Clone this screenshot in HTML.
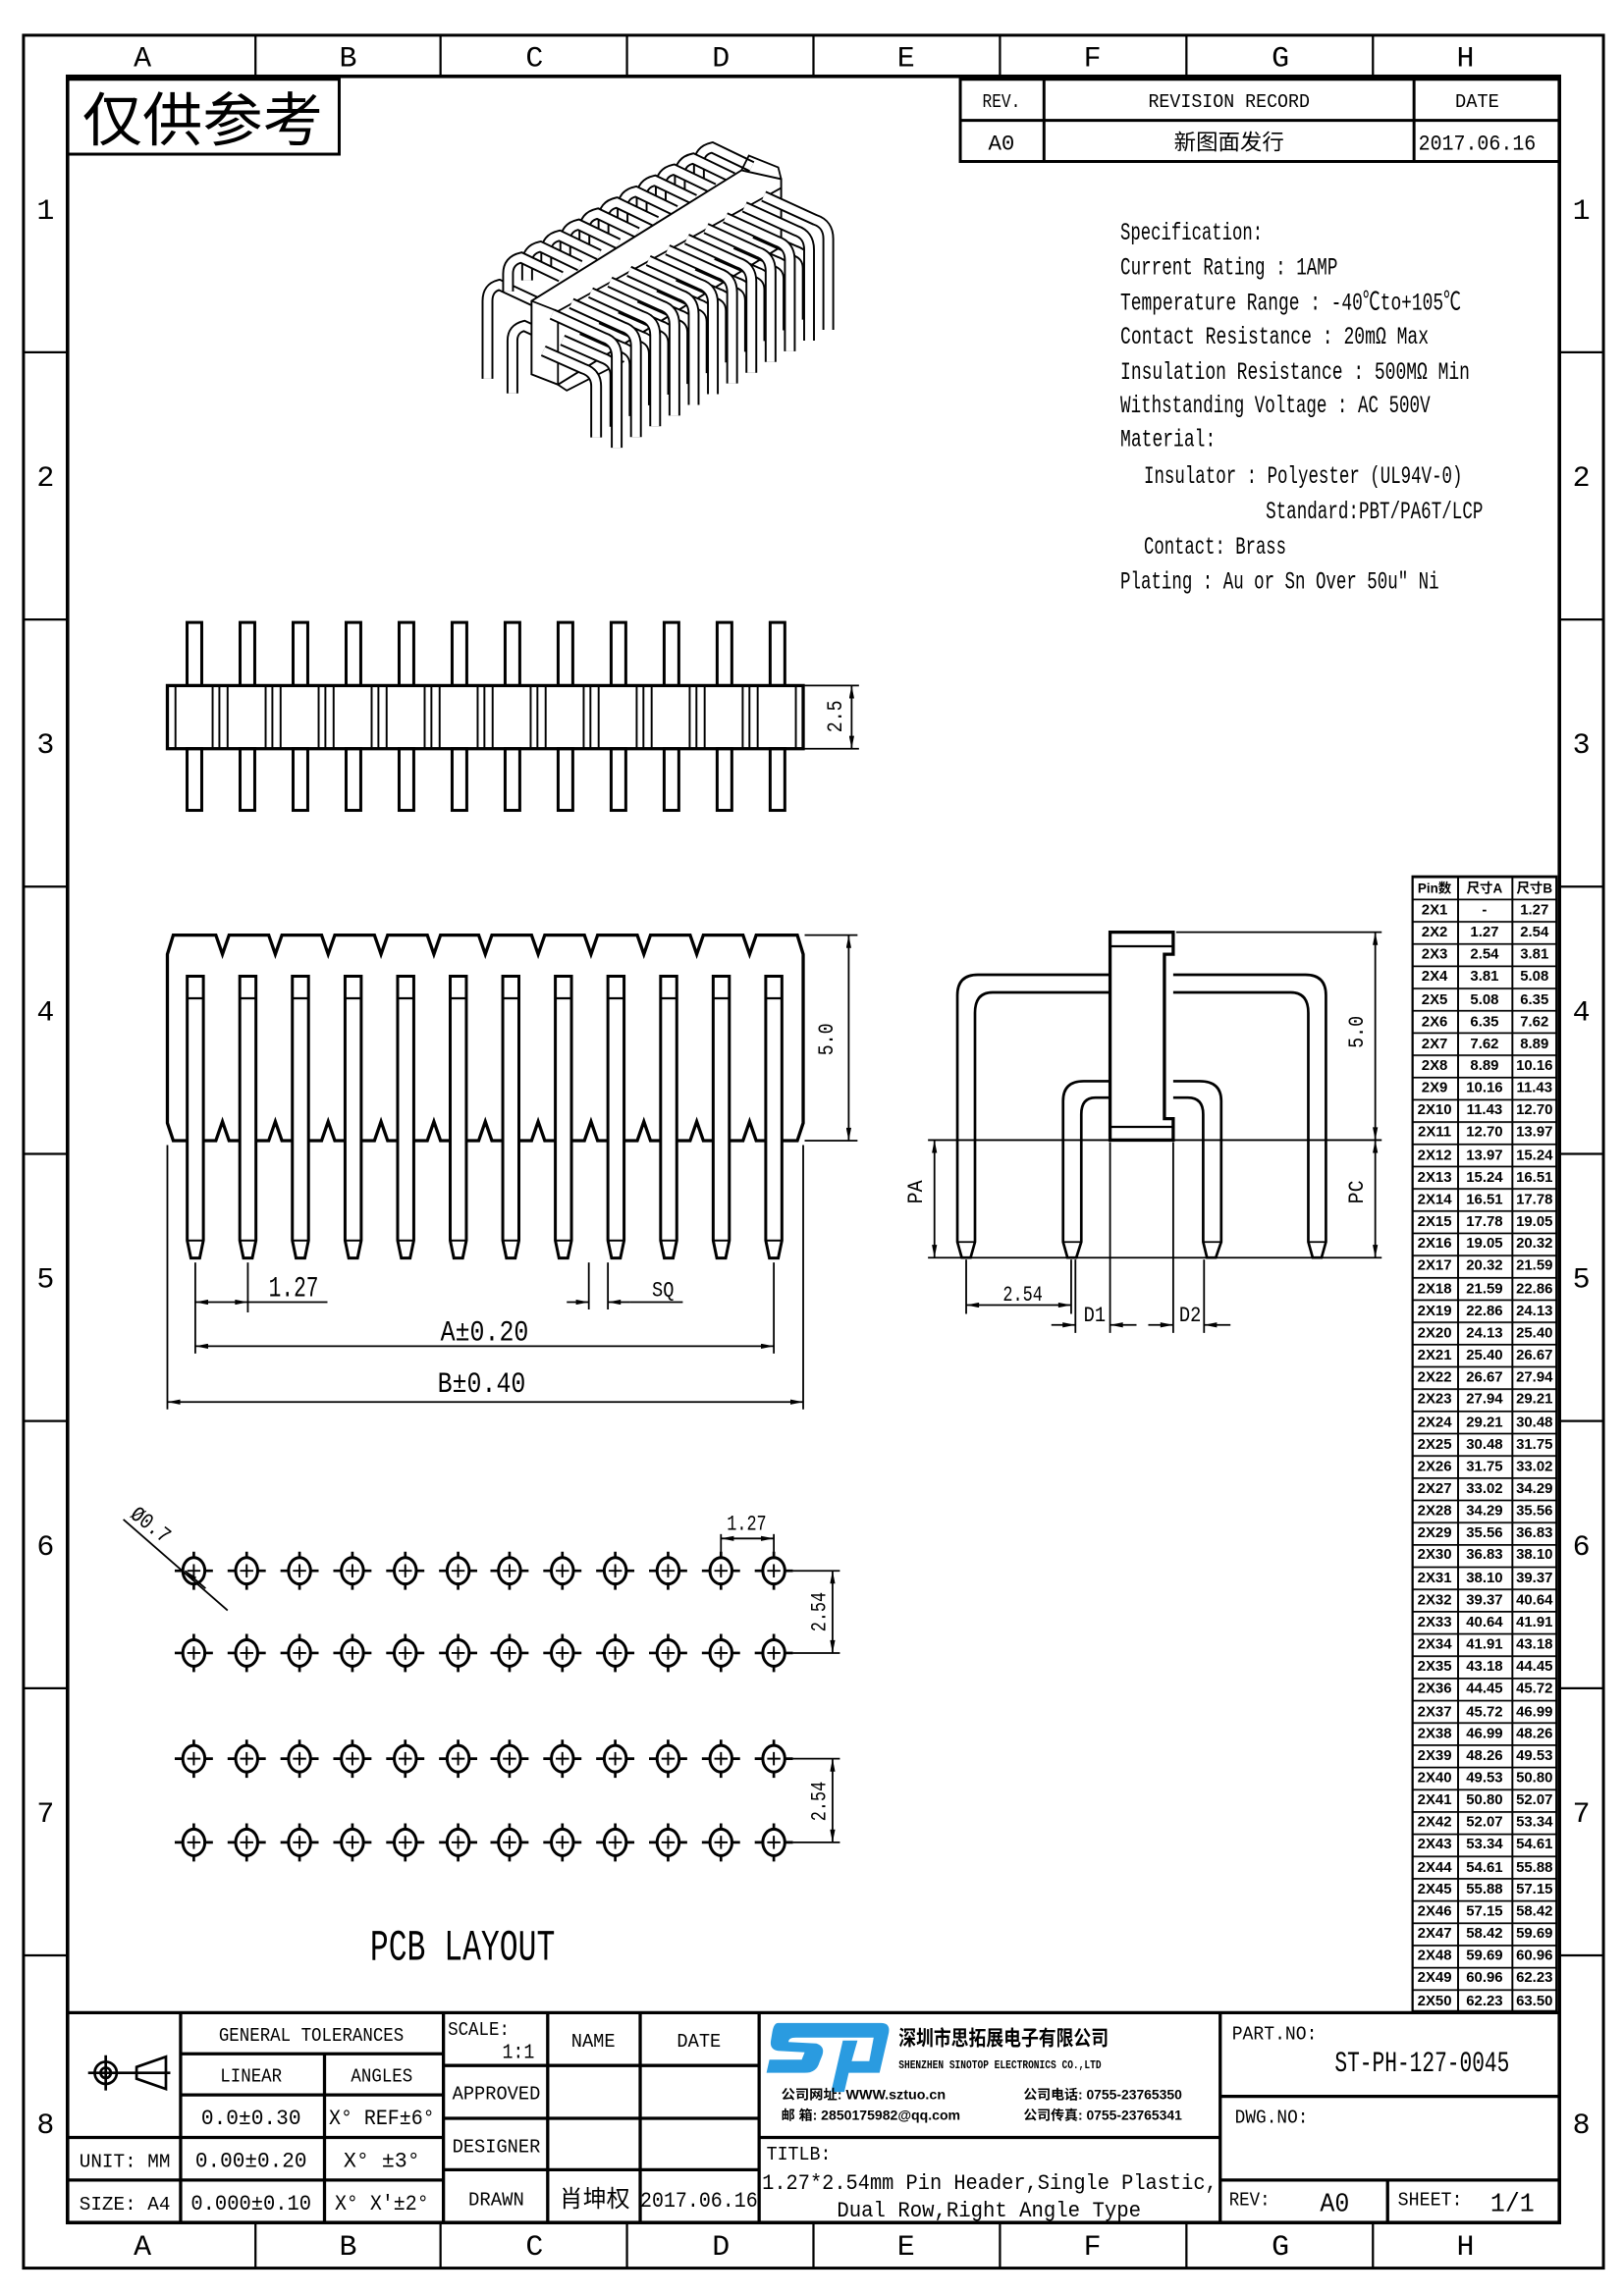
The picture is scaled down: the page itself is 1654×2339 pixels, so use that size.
<!DOCTYPE html>
<html><head><meta charset="utf-8"><style>
html,body{margin:0;padding:0;background:#fff}
svg{display:block}
text{font-family:"Liberation Mono","Noto Sans CJK SC",monospace;fill:#000}
.s{font-family:"Liberation Sans","Noto Sans CJK SC",sans-serif}
.t text{font-family:"Liberation Sans","Noto Sans CJK SC",sans-serif}
</style></head><body>
<svg width="1654" height="2339" viewBox="0 0 1106 1564" preserveAspectRatio="none" xmlns="http://www.w3.org/2000/svg">
<defs>
<marker id="a" viewBox="0 0 10 4" refX="10" refY="2" markerWidth="9" markerHeight="3.5" orient="auto-start-reverse" markerUnits="userSpaceOnUse"><path d="M0,0 L10,2 L0,4z"/></marker>
<pattern id="rows" x="962" y="597" width="100" height="15.16" patternUnits="userSpaceOnUse"><line x1="0" y1="0.5" x2="100" y2="0.5" stroke="#000" stroke-width="1.3"/></pattern>
<g id="fp"><path d="M-5.5,665 H5.5 V845 L3,857 H-3 L-5.5,845 Z" fill="#fff" stroke="#000" stroke-width="2"/><line x1="-5.5" y1="680" x2="5.5" y2="680" stroke="#000" stroke-width="1.5"/><line x1="-5.5" y1="845" x2="5.5" y2="845" stroke="#000" stroke-width="1.3"/></g>
<g id="tp"><rect x="-5" y="424" width="10" height="43" fill="#fff" stroke="#000" stroke-width="2"/><rect x="-5" y="510" width="10" height="42" fill="#fff" stroke="#000" stroke-width="2"/></g>
<g id="gr" stroke="#000" stroke-width="1.3"><line x1="12.4" y1="467" x2="12.4" y2="510"/><line x1="17" y1="467" x2="17" y2="510"/><line x1="22.6" y1="467" x2="22.6" y2="510"/></g>
<g id="h" fill="none" stroke="#000"><ellipse cx="0" cy="0" rx="7.5" ry="9" stroke-width="2"/><path d="M-13,0 H-7.5 M7.5,0 H13 M0,-13 V-9 M0,9 V13" stroke-width="1.8"/><path d="M-4.5,0 H4.5 M0,-4.5 V4.5" stroke-width="1.3"/></g>
<g id="hr"><use href="#h" x="132"/><use href="#h" x="168"/><use href="#h" x="204"/><use href="#h" x="240"/><use href="#h" x="276"/><use href="#h" x="312"/><use href="#h" x="347"/><use href="#h" x="383"/><use href="#h" x="419"/><use href="#h" x="455"/><use href="#h" x="491"/><use href="#h" x="527"/></g>
<g id="p3" fill="none" stroke-linejoin="round"><path d="M0,0 V-62 Q0,-72 -9,-75 L-44,-91" stroke="#000" stroke-width="8"/><path d="M0,0 V-62 Q0,-72 -9,-75 L-44,-91" stroke="#fff" stroke-width="5.4"/><path d="M-14,-7 V-42 Q-14,-51 -23,-54 L-50,-66" stroke="#000" stroke-width="8"/><path d="M-14,-7 V-42 Q-14,-51 -23,-54 L-50,-66" stroke="#fff" stroke-width="5.4"/></g>
<g id="ba" fill="none"><path d="M0,6 V-6 Q0,-15 9,-17 L36,-4" stroke="#000" stroke-width="8"/><path d="M0,6 V-6 Q0,-15 9,-17 L36,-4" stroke="#fff" stroke-width="5.4"/></g>
</defs>

<!-- frame -->
<g fill="none" stroke="#000" stroke-width="2">
<rect x="16" y="24" width="1076" height="1521"/>
<rect x="46" y="52" width="1016" height="1462" stroke-width="2.4"/>
</g>
<g stroke="#000" stroke-width="1.5">
<line x1="174" y1="24" x2="174" y2="52"/><line x1="300" y1="24" x2="300" y2="52"/><line x1="427" y1="24" x2="427" y2="52"/><line x1="554" y1="24" x2="554" y2="52"/><line x1="681" y1="24" x2="681" y2="52"/><line x1="808" y1="24" x2="808" y2="52"/><line x1="935" y1="24" x2="935" y2="52"/>
<line x1="174" y1="1514" x2="174" y2="1545"/><line x1="300" y1="1514" x2="300" y2="1545"/><line x1="427" y1="1514" x2="427" y2="1545"/><line x1="554" y1="1514" x2="554" y2="1545"/><line x1="681" y1="1514" x2="681" y2="1545"/><line x1="808" y1="1514" x2="808" y2="1545"/><line x1="935" y1="1514" x2="935" y2="1545"/>
<line x1="16" y1="240" x2="46" y2="240"/><line x1="16" y1="422" x2="46" y2="422"/><line x1="16" y1="604" x2="46" y2="604"/><line x1="16" y1="786" x2="46" y2="786"/><line x1="16" y1="968" x2="46" y2="968"/><line x1="16" y1="1150" x2="46" y2="1150"/><line x1="16" y1="1332" x2="46" y2="1332"/>
<line x1="1062" y1="240" x2="1092" y2="240"/><line x1="1062" y1="422" x2="1092" y2="422"/><line x1="1062" y1="604" x2="1092" y2="604"/><line x1="1062" y1="786" x2="1092" y2="786"/><line x1="1062" y1="968" x2="1092" y2="968"/><line x1="1062" y1="1150" x2="1092" y2="1150"/><line x1="1062" y1="1332" x2="1092" y2="1332"/>
</g>
<g font-size="20" text-anchor="middle">
<text x="97" y="45">A</text><text x="237" y="45">B</text><text x="364" y="45">C</text><text x="491" y="45">D</text><text x="617" y="45">E</text><text x="744" y="45">F</text><text x="872" y="45">G</text><text x="998" y="45">H</text>
<text x="97" y="1536">A</text><text x="237" y="1536">B</text><text x="364" y="1536">C</text><text x="491" y="1536">D</text><text x="617" y="1536">E</text><text x="744" y="1536">F</text><text x="872" y="1536">G</text><text x="998" y="1536">H</text>
<text x="31" y="149">1</text><text x="31" y="331">2</text><text x="31" y="513">3</text><text x="31" y="695">4</text><text x="31" y="877">5</text><text x="31" y="1059">6</text><text x="31" y="1241">7</text><text x="31" y="1453">8</text>
<text x="1077" y="149">1</text><text x="1077" y="331">2</text><text x="1077" y="513">3</text><text x="1077" y="695">4</text><text x="1077" y="877">5</text><text x="1077" y="1059">6</text><text x="1077" y="1241">7</text><text x="1077" y="1453">8</text>
</g>

<!-- 仅供参考 -->
<rect x="46" y="54" width="185" height="51" fill="none" stroke="#000" stroke-width="2"/>
<text class="s" x="56" y="96" font-size="40" textLength="164" lengthAdjust="spacingAndGlyphs">仅供参考</text>

<!-- revision -->
<g fill="none" stroke="#000" stroke-width="2"><rect x="654" y="54" width="408" height="56"/><line x1="654" y1="82" x2="1062" y2="82"/><line x1="711" y1="54" x2="711" y2="110"/><line x1="963" y1="54" x2="963" y2="110"/></g>
<g font-size="13" text-anchor="middle">
<text x="682" y="73" textLength="26" lengthAdjust="spacingAndGlyphs">REV.</text>
<text x="837" y="73" textLength="110" lengthAdjust="spacingAndGlyphs">REVISION RECORD</text>
<text x="1006" y="73" textLength="30" lengthAdjust="spacingAndGlyphs">DATE</text>
<text x="682" y="102" font-size="15">A0</text>
<text class="s" x="837" y="102" font-size="15">新图面发行</text>
<text x="1006" y="102" font-size="15" textLength="80" lengthAdjust="spacingAndGlyphs">2017.06.16</text>
</g>

<!-- spec -->
<g font-size="17">
<text x="763" y="163" textLength="97" lengthAdjust="spacingAndGlyphs">Specification:</text>
<text x="763" y="187" textLength="148" lengthAdjust="spacingAndGlyphs">Current Rating : 1AMP</text>
<text x="763" y="211" textLength="232" lengthAdjust="spacingAndGlyphs">Temperature Range : -40℃to+105℃</text>
<text x="763" y="234" textLength="210" lengthAdjust="spacingAndGlyphs">Contact Resistance : 20mΩ Max</text>
<text x="763" y="258" textLength="238" lengthAdjust="spacingAndGlyphs">Insulation Resistance : 500MΩ Min</text>
<text x="763" y="281" textLength="211" lengthAdjust="spacingAndGlyphs">Withstanding Voltage : AC 500V</text>
<text x="763" y="304" textLength="65" lengthAdjust="spacingAndGlyphs">Material:</text>
<text x="779" y="329" textLength="217" lengthAdjust="spacingAndGlyphs">Insulator : Polyester (UL94V-0)</text>
<text x="862" y="353" textLength="148" lengthAdjust="spacingAndGlyphs">Standard:PBT/PA6T/LCP</text>
<text x="779" y="377" textLength="97" lengthAdjust="spacingAndGlyphs">Contact: Brass</text>
<text x="763" y="401" textLength="217" lengthAdjust="spacingAndGlyphs">Plating : Au or Sn Over 50u″ Ni</text>
</g>

<!-- 3D view -->
<g>
<g fill="none"><path d="M332,258 V205 Q332,196 340,194 L370,208" stroke="#000" stroke-width="8"/><path d="M332,258 V205 Q332,196 340,194 L370,208" stroke="#fff" stroke-width="5.4"/>
<path d="M349,268 V232 Q349,224 357,222 L372,229" stroke="#000" stroke-width="8"/><path d="M349,268 V232 Q349,224 357,222 L372,229" stroke="#fff" stroke-width="5.4"/></g>
<use href="#ba" x="476" y="117.5"/><use href="#ba" x="463" y="125"/><use href="#ba" x="450" y="132.5"/><use href="#ba" x="437" y="140"/><use href="#ba" x="424" y="147.5"/><use href="#ba" x="411" y="155"/><use href="#ba" x="398" y="162.5"/><use href="#ba" x="385" y="170"/><use href="#ba" x="372" y="177.5"/><use href="#ba" x="359" y="185"/><use href="#ba" x="346" y="192.5"/>
<polygon points="362,205 505,116 532,122 532,168 380,262 362,255" fill="#fff" stroke="#000" stroke-width="1.3"/>
<path d="M362,205 L380,212 L532,128 M380,212 V262 M505,116 L510,106 L530,114 L532,122" fill="none" stroke="#000" stroke-width="1.2"/>
<path d="M380,262 L386,266 L425,246" fill="none" stroke="#000" stroke-width="1.2"/>
<use href="#p3" x="564.1" y="224.7"/><use href="#p3" x="551" y="232"/><use href="#p3" x="537.9" y="239.3"/><use href="#p3" x="524.8" y="246.6"/><use href="#p3" x="511.7" y="253.9"/><use href="#p3" x="498.6" y="261.2"/><use href="#p3" x="485.5" y="268.5"/><use href="#p3" x="472.4" y="275.8"/><use href="#p3" x="459.3" y="283.1"/><use href="#p3" x="446.2" y="290.4"/><use href="#p3" x="433.1" y="297.7"/><use href="#p3" x="420" y="305"/>
</g>

<!-- top view -->
<g>
<use href="#tp" x="132.4"/><use href="#tp" x="168.5"/><use href="#tp" x="204.6"/><use href="#tp" x="240.7"/><use href="#tp" x="276.8"/><use href="#tp" x="312.9"/><use href="#tp" x="349"/><use href="#tp" x="385.1"/><use href="#tp" x="421.2"/><use href="#tp" x="457.3"/><use href="#tp" x="493.4"/><use href="#tp" x="529.5"/>
<rect x="114" y="467" width="433" height="43" fill="none" stroke="#000" stroke-width="2.2"/>
<line x1="119.5" y1="467" x2="119.5" y2="510" stroke="#000" stroke-width="1.3"/><line x1="542" y1="467" x2="542" y2="510" stroke="#000" stroke-width="1.3"/>
<use href="#gr" x="132.4"/><use href="#gr" x="168.5"/><use href="#gr" x="204.6"/><use href="#gr" x="240.7"/><use href="#gr" x="276.8"/><use href="#gr" x="312.9"/><use href="#gr" x="349"/><use href="#gr" x="385.1"/><use href="#gr" x="421.2"/><use href="#gr" x="457.3"/><use href="#gr" x="493.4"/>
<g stroke="#000" stroke-width="1.2"><line x1="548" y1="467" x2="585" y2="467"/><line x1="548" y1="510" x2="585" y2="510"/><line x1="580" y1="467" x2="580" y2="510" marker-start="url(#a)" marker-end="url(#a)"/></g>
<text x="573" y="488" font-size="15" text-anchor="middle" transform="rotate(-90 573 488)" textLength="22" lengthAdjust="spacingAndGlyphs">2.5</text>
</g>

<!-- front view -->
<g>
<path d="M114,650 L118,637 H147 L151.5,650 L156,637 H183 L187.5,650 L192,637 H219 L223.5,650 L228,637 H255 L259.5,650 L264,637 H291 L295.5,650 L300,637 H326 L330.5,650 L335,637 H362 L366.5,650 L371,637 H398 L402.5,650 L407,637 H434 L438.5,650 L443,637 H470 L474.5,650 L479,637 H506 L510.5,650 L515,637 H543 L547,650 V765 L543,777 H515 L510.5,764 L506,777 H479 L474.5,764 L470,777 H443 L438.5,764 L434,777 H407 L402.5,764 L398,777 H371 L366.5,764 L362,777 H335 L330.5,764 L326,777 H300 L295.5,764 L291,777 H264 L259.5,764 L255,777 H228 L223.5,764 L219,777 H192 L187.5,764 L183,777 H156 L151.5,764 L147,777 H118 L114,765 Z" fill="none" stroke="#000" stroke-width="2.2"/>
<use href="#fp" x="133"/><use href="#fp" x="168.8"/><use href="#fp" x="204.6"/><use href="#fp" x="240.5"/><use href="#fp" x="276.3"/><use href="#fp" x="312.1"/><use href="#fp" x="347.9"/><use href="#fp" x="383.7"/><use href="#fp" x="419.5"/><use href="#fp" x="455.4"/><use href="#fp" x="491.2"/><use href="#fp" x="527"/>
<g stroke="#000" stroke-width="1.2" fill="none">
<line x1="548" y1="637" x2="584" y2="637"/><line x1="548" y1="777" x2="584" y2="777"/><line x1="578" y1="637" x2="578" y2="777" marker-start="url(#a)" marker-end="url(#a)"/>
<line x1="133" y1="860" x2="133" y2="922"/><line x1="168.8" y1="860" x2="168.8" y2="894"/>
<line x1="133" y1="887" x2="168.8" y2="887" marker-start="url(#a)" marker-end="url(#a)"/><line x1="168.8" y1="887" x2="223" y2="887"/>
<line x1="401" y1="860" x2="401" y2="892"/><line x1="414" y1="860" x2="414" y2="892"/>
<line x1="386" y1="887" x2="401" y2="887" marker-end="url(#a)"/><line x1="429" y1="887" x2="414" y2="887" marker-end="url(#a)"/><line x1="429" y1="887" x2="465" y2="887"/>
<line x1="527" y1="860" x2="527" y2="922"/><line x1="133" y1="917" x2="527" y2="917" marker-start="url(#a)" marker-end="url(#a)"/>
<line x1="114" y1="780" x2="114" y2="960"/><line x1="547" y1="780" x2="547" y2="960"/><line x1="114" y1="955" x2="547" y2="955" marker-start="url(#a)" marker-end="url(#a)"/>
</g>
<text x="567" y="708" font-size="15" text-anchor="middle" transform="rotate(-90 567 708)" textLength="22" lengthAdjust="spacingAndGlyphs">5.0</text>
<text x="183" y="883" font-size="20" textLength="34" lengthAdjust="spacingAndGlyphs">1.27</text>
<text x="444" y="883" font-size="15" textLength="15" lengthAdjust="spacingAndGlyphs">SQ</text>
<text x="300" y="913" font-size="20" textLength="60" lengthAdjust="spacingAndGlyphs">A±0.20</text>
<text x="298" y="948" font-size="20" textLength="60" lengthAdjust="spacingAndGlyphs">B±0.40</text>
</g>

<!-- side view -->
<g fill="none" stroke="#000">
<path d="M756,664 H666 Q652,664 652,678 V846 L655,856.7 H661 L664,846 V690 Q664,676 676,676 H756" stroke-width="1.8" fill="#fff"/>
<path d="M756,736.5 H738 Q724,736.5 724,750 V846 L727,856.7 H733 L736.4,846 V759 Q736.4,747.7 746,747.7 H756" stroke-width="1.8" fill="#fff"/>
<path d="M799,664 H889 Q903,664 903,678 V846 L900,856.7 H894 L891,846 V690 Q891,676 879,676 H799" stroke-width="1.8" fill="#fff"/>
<path d="M799,736.5 H817 Q831.7,736.5 831.7,750 V846 L828,856.7 H822 L819.4,846 V759 Q819.4,747.7 809,747.7 H799" stroke-width="1.8" fill="#fff"/>
<line x1="664" y1="846" x2="652" y2="846" stroke-width="1.2"/><line x1="736.4" y1="846" x2="724" y2="846" stroke-width="1.2"/><line x1="831.7" y1="846" x2="819.4" y2="846" stroke-width="1.2"/><line x1="903" y1="846" x2="891" y2="846" stroke-width="1.2"/>
<path d="M756,635 H799 V650 H793 V762 H799 V776.6 H756 Z" stroke-width="2.2" fill="#fff"/>
<line x1="756" y1="644.6" x2="799" y2="644.6" stroke-width="1.5"/><line x1="756" y1="767.6" x2="799" y2="767.6" stroke-width="1.5"/>
<g stroke-width="1.2">
<line x1="632" y1="776.6" x2="941" y2="776.6"/><line x1="632" y1="856.7" x2="941" y2="856.7"/>
<line x1="801" y1="635" x2="941" y2="635"/>
<line x1="936.6" y1="635" x2="936.6" y2="776.6" marker-start="url(#a)" marker-end="url(#a)"/>
<line x1="936.6" y1="776.6" x2="936.6" y2="856.7" marker-start="url(#a)" marker-end="url(#a)"/>
<line x1="636.4" y1="776.6" x2="636.4" y2="856.7" marker-start="url(#a)" marker-end="url(#a)"/>
<line x1="658" y1="858" x2="658" y2="895"/><line x1="729.5" y1="858" x2="729.5" y2="895"/>
<line x1="658" y1="889" x2="729.5" y2="889" marker-start="url(#a)" marker-end="url(#a)"/>
<line x1="732.4" y1="858" x2="732.4" y2="908"/><line x1="756" y1="778" x2="756" y2="908"/>
<line x1="716" y1="902.5" x2="732.4" y2="902.5" marker-end="url(#a)"/><line x1="774" y1="902.5" x2="756" y2="902.5" marker-end="url(#a)"/>
<line x1="799" y1="778" x2="799" y2="908"/><line x1="820" y1="858" x2="820" y2="908"/>
<line x1="782" y1="902.5" x2="799" y2="902.5" marker-end="url(#a)"/><line x1="838" y1="902.5" x2="820" y2="902.5" marker-end="url(#a)"/>
</g>
</g>
<g font-size="15" stroke="none">
<text x="933" y="708" transform="rotate(-90 928 708)" text-anchor="middle" textLength="22" lengthAdjust="spacingAndGlyphs">5.0</text>
<text x="633" y="817" transform="rotate(-90 628 817)" text-anchor="middle" textLength="16" lengthAdjust="spacingAndGlyphs">PA</text>
<text x="933" y="817" transform="rotate(-90 928 817)" text-anchor="middle" textLength="16" lengthAdjust="spacingAndGlyphs">PC</text>
<text x="683" y="886" textLength="27" lengthAdjust="spacingAndGlyphs">2.54</text>
<text x="738" y="900" textLength="15" lengthAdjust="spacingAndGlyphs">D1</text>
<text x="803" y="900" textLength="15" lengthAdjust="spacingAndGlyphs">D2</text>
</g>

<!-- PCB layout -->
<g>
<use href="#hr" y="1070"/><use href="#hr" y="1126"/><use href="#hr" y="1198"/><use href="#hr" y="1255"/>
<g stroke="#000" stroke-width="1.2" fill="none">
<line x1="84" y1="1035" x2="155" y2="1097"/><line x1="140" y1="1082" x2="126" y2="1070" marker-end="url(#a)"/>
<line x1="491" y1="1045" x2="491" y2="1062"/><line x1="527" y1="1045" x2="527" y2="1062"/>
<line x1="491" y1="1048" x2="527" y2="1048" marker-start="url(#a)" marker-end="url(#a)"/>
<line x1="540" y1="1070" x2="572" y2="1070"/><line x1="540" y1="1126" x2="572" y2="1126"/><line x1="567" y1="1070" x2="567" y2="1126" marker-start="url(#a)" marker-end="url(#a)"/>
<line x1="540" y1="1198" x2="572" y2="1198"/><line x1="540" y1="1255" x2="572" y2="1255"/><line x1="567" y1="1198" x2="567" y2="1255" marker-start="url(#a)" marker-end="url(#a)"/>
</g>
<text x="88" y="1033" font-size="15" transform="rotate(38 88 1033)" textLength="30" lengthAdjust="spacingAndGlyphs">Ø0.7</text>
<text x="495" y="1042" font-size="15" textLength="27" lengthAdjust="spacingAndGlyphs">1.27</text>
<text x="562" y="1098" font-size="15" text-anchor="middle" transform="rotate(-90 562 1098)" textLength="27" lengthAdjust="spacingAndGlyphs">2.54</text>
<text x="562" y="1227" font-size="15" text-anchor="middle" transform="rotate(-90 562 1227)" textLength="27" lengthAdjust="spacingAndGlyphs">2.54</text>
<text x="252" y="1335" font-size="30" textLength="126" lengthAdjust="spacingAndGlyphs">PCB LAYOUT</text>
</g>

<!-- size table -->
<g class="t">
<rect x="962" y="597" width="98" height="773" fill="url(#rows)" stroke="#000" stroke-width="1.5"/>
<line x1="993" y1="597" x2="993" y2="1370" stroke="#000" stroke-width="1.3"/><line x1="1030" y1="597" x2="1030" y2="1370" stroke="#000" stroke-width="1.3"/>
<g font-size="10" font-weight="bold" text-anchor="middle">
<text x="977" y="608" font-size="9">Pin数</text><text x="1011" y="608" font-size="9">尺寸A</text><text x="1045" y="608" font-size="9">尺寸B</text>
<text x="977" y="623">2X1</text><text x="1011" y="623">-</text><text x="1045" y="623">1.27</text>
<text x="977" y="638">2X2</text><text x="1011" y="638">1.27</text><text x="1045" y="638">2.54</text>
<text x="977" y="653">2X3</text><text x="1011" y="653">2.54</text><text x="1045" y="653">3.81</text>
<text x="977" y="668">2X4</text><text x="1011" y="668">3.81</text><text x="1045" y="668">5.08</text>
<text x="977" y="684">2X5</text><text x="1011" y="684">5.08</text><text x="1045" y="684">6.35</text>
<text x="977" y="699">2X6</text><text x="1011" y="699">6.35</text><text x="1045" y="699">7.62</text>
<text x="977" y="714">2X7</text><text x="1011" y="714">7.62</text><text x="1045" y="714">8.89</text>
<text x="977" y="729">2X8</text><text x="1011" y="729">8.89</text><text x="1045" y="729">10.16</text>
<text x="977" y="744">2X9</text><text x="1011" y="744">10.16</text><text x="1045" y="744">11.43</text>
<text x="977" y="759">2X10</text><text x="1011" y="759">11.43</text><text x="1045" y="759">12.70</text>
<text x="977" y="774">2X11</text><text x="1011" y="774">12.70</text><text x="1045" y="774">13.97</text>
<text x="977" y="790">2X12</text><text x="1011" y="790">13.97</text><text x="1045" y="790">15.24</text>
<text x="977" y="805">2X13</text><text x="1011" y="805">15.24</text><text x="1045" y="805">16.51</text>
<text x="977" y="820">2X14</text><text x="1011" y="820">16.51</text><text x="1045" y="820">17.78</text>
<text x="977" y="835">2X15</text><text x="1011" y="835">17.78</text><text x="1045" y="835">19.05</text>
<text x="977" y="850">2X16</text><text x="1011" y="850">19.05</text><text x="1045" y="850">20.32</text>
<text x="977" y="865">2X17</text><text x="1011" y="865">20.32</text><text x="1045" y="865">21.59</text>
<text x="977" y="881">2X18</text><text x="1011" y="881">21.59</text><text x="1045" y="881">22.86</text>
<text x="977" y="896">2X19</text><text x="1011" y="896">22.86</text><text x="1045" y="896">24.13</text>
<text x="977" y="911">2X20</text><text x="1011" y="911">24.13</text><text x="1045" y="911">25.40</text>
<text x="977" y="926">2X21</text><text x="1011" y="926">25.40</text><text x="1045" y="926">26.67</text>
<text x="977" y="941">2X22</text><text x="1011" y="941">26.67</text><text x="1045" y="941">27.94</text>
<text x="977" y="956">2X23</text><text x="1011" y="956">27.94</text><text x="1045" y="956">29.21</text>
<text x="977" y="972">2X24</text><text x="1011" y="972">29.21</text><text x="1045" y="972">30.48</text>
<text x="977" y="987">2X25</text><text x="1011" y="987">30.48</text><text x="1045" y="987">31.75</text>
<text x="977" y="1002">2X26</text><text x="1011" y="1002">31.75</text><text x="1045" y="1002">33.02</text>
<text x="977" y="1017">2X27</text><text x="1011" y="1017">33.02</text><text x="1045" y="1017">34.29</text>
<text x="977" y="1032">2X28</text><text x="1011" y="1032">34.29</text><text x="1045" y="1032">35.56</text>
<text x="977" y="1047">2X29</text><text x="1011" y="1047">35.56</text><text x="1045" y="1047">36.83</text>
<text x="977" y="1062">2X30</text><text x="1011" y="1062">36.83</text><text x="1045" y="1062">38.10</text>
<text x="977" y="1078">2X31</text><text x="1011" y="1078">38.10</text><text x="1045" y="1078">39.37</text>
<text x="977" y="1093">2X32</text><text x="1011" y="1093">39.37</text><text x="1045" y="1093">40.64</text>
<text x="977" y="1108">2X33</text><text x="1011" y="1108">40.64</text><text x="1045" y="1108">41.91</text>
<text x="977" y="1123">2X34</text><text x="1011" y="1123">41.91</text><text x="1045" y="1123">43.18</text>
<text x="977" y="1138">2X35</text><text x="1011" y="1138">43.18</text><text x="1045" y="1138">44.45</text>
<text x="977" y="1153">2X36</text><text x="1011" y="1153">44.45</text><text x="1045" y="1153">45.72</text>
<text x="977" y="1169">2X37</text><text x="1011" y="1169">45.72</text><text x="1045" y="1169">46.99</text>
<text x="977" y="1184">2X38</text><text x="1011" y="1184">46.99</text><text x="1045" y="1184">48.26</text>
<text x="977" y="1199">2X39</text><text x="1011" y="1199">48.26</text><text x="1045" y="1199">49.53</text>
<text x="977" y="1214">2X40</text><text x="1011" y="1214">49.53</text><text x="1045" y="1214">50.80</text>
<text x="977" y="1229">2X41</text><text x="1011" y="1229">50.80</text><text x="1045" y="1229">52.07</text>
<text x="977" y="1244">2X42</text><text x="1011" y="1244">52.07</text><text x="1045" y="1244">53.34</text>
<text x="977" y="1259">2X43</text><text x="1011" y="1259">53.34</text><text x="1045" y="1259">54.61</text>
<text x="977" y="1275">2X44</text><text x="1011" y="1275">54.61</text><text x="1045" y="1275">55.88</text>
<text x="977" y="1290">2X45</text><text x="1011" y="1290">55.88</text><text x="1045" y="1290">57.15</text>
<text x="977" y="1305">2X46</text><text x="1011" y="1305">57.15</text><text x="1045" y="1305">58.42</text>
<text x="977" y="1320">2X47</text><text x="1011" y="1320">58.42</text><text x="1045" y="1320">59.69</text>
<text x="977" y="1335">2X48</text><text x="1011" y="1335">59.69</text><text x="1045" y="1335">60.96</text>
<text x="977" y="1350">2X49</text><text x="1011" y="1350">60.96</text><text x="1045" y="1350">62.23</text>
<text x="977" y="1366">2X50</text><text x="1011" y="1366">62.23</text><text x="1045" y="1366">63.50</text>
</g>
</g>

<!-- title block -->
<g fill="none" stroke="#000" stroke-width="2.2">
<line x1="46" y1="1371" x2="1062" y2="1371"/>
<line x1="123" y1="1371" x2="123" y2="1514"/><line x1="302" y1="1371" x2="302" y2="1514"/>
<line x1="123" y1="1399" x2="302" y2="1399"/><line x1="123" y1="1427" x2="302" y2="1427"/><line x1="46" y1="1456" x2="302" y2="1456"/><line x1="46" y1="1485" x2="302" y2="1485"/>
<line x1="221" y1="1399" x2="221" y2="1514"/>
<line x1="373" y1="1371" x2="373" y2="1514"/><line x1="436" y1="1371" x2="436" y2="1514"/><line x1="517" y1="1371" x2="517" y2="1514"/>
<line x1="302" y1="1407" x2="517" y2="1407"/><line x1="302" y1="1443" x2="517" y2="1443"/><line x1="302" y1="1478" x2="517" y2="1478"/>
<line x1="517" y1="1456" x2="831" y2="1456"/><line x1="831" y1="1371" x2="831" y2="1514"/>
<line x1="831" y1="1428" x2="1062" y2="1428"/><line x1="831" y1="1485" x2="1062" y2="1485"/><line x1="945" y1="1485" x2="945" y2="1514"/>
</g>
<g fill="none" stroke="#000" stroke-width="1.8">
<circle cx="72" cy="1412" r="7.5"/><circle cx="72" cy="1412" r="3.5"/><path d="M60,1412 H116 M72,1400 V1424"/>
<path d="M93,1408 L113,1401 V1423 L93,1416 Z"/>
</g>
<g font-size="13" text-anchor="middle">
<text x="212" y="1390" textLength="126" lengthAdjust="spacingAndGlyphs">GENERAL TOLERANCES</text>
<text x="171" y="1418" textLength="42" lengthAdjust="spacingAndGlyphs">LINEAR</text>
<text x="260" y="1418" textLength="42" lengthAdjust="spacingAndGlyphs">ANGLES</text>
<text x="171" y="1447" font-size="15" textLength="68" lengthAdjust="spacingAndGlyphs">0.0±0.30</text>
<text x="260" y="1447" font-size="15" textLength="72" lengthAdjust="spacingAndGlyphs">X° REF±6°</text>
<text x="85" y="1476" textLength="62" lengthAdjust="spacingAndGlyphs">UNIT: MM</text>
<text x="171" y="1476" font-size="15" textLength="76" lengthAdjust="spacingAndGlyphs">0.00±0.20</text>
<text x="260" y="1476" font-size="15" textLength="52" lengthAdjust="spacingAndGlyphs">X° ±3°</text>
<text x="85" y="1505" textLength="62" lengthAdjust="spacingAndGlyphs">SIZE: A4</text>
<text x="171" y="1505" font-size="15" textLength="82" lengthAdjust="spacingAndGlyphs">0.000±0.10</text>
<text x="260" y="1505" font-size="15" textLength="64" lengthAdjust="spacingAndGlyphs">X° X'±2°</text>
<text x="326" y="1386" textLength="42" lengthAdjust="spacingAndGlyphs">SCALE:</text>
<text x="353" y="1402" font-size="14" textLength="22" lengthAdjust="spacingAndGlyphs">1:1</text>
<text x="404" y="1394" textLength="30" lengthAdjust="spacingAndGlyphs">NAME</text>
<text x="476" y="1394" textLength="30" lengthAdjust="spacingAndGlyphs">DATE</text>
<text x="338" y="1430" textLength="60" lengthAdjust="spacingAndGlyphs">APPROVED</text>
<text x="338" y="1466" textLength="60" lengthAdjust="spacingAndGlyphs">DESIGNER</text>
<text x="338" y="1502" textLength="38" lengthAdjust="spacingAndGlyphs">DRAWN</text>
<text class="s" x="405" y="1503" font-size="16">肖坤权</text>
<text x="476" y="1503" font-size="15" textLength="80" lengthAdjust="spacingAndGlyphs">2017.06.16</text>
</g>
<!-- logo -->
<g>
<path d="M530,1378 H600 Q607,1378 605,1386 L599,1412 H578 L575,1425 H566 L574,1390 H584 L580,1404 H592 L595,1388 H542 Q537,1388 537,1391 L556,1392 Q562,1394 560,1400 L558,1405 Q556,1412 548,1412 H522 L524,1403 H546 L548,1398 L530,1397 Q524,1396 525,1390 L526,1384 Q527,1378 530,1378 Z" fill="#2a9be0"/>
<text class="s" x="612" y="1393" font-size="14" font-weight="bold" textLength="143" lengthAdjust="spacingAndGlyphs">深圳市思拓展电子有限公司</text>
<text x="612" y="1409" font-size="8" font-weight="bold" textLength="138" lengthAdjust="spacingAndGlyphs">SHENZHEN SINOTOP ELECTRONICS CO.,LTD</text>
<text class="s" x="532" y="1430" font-size="9" font-weight="bold" textLength="112" lengthAdjust="spacingAndGlyphs">公司网址: WWW.sztuo.cn</text>
<text class="s" x="532" y="1444" font-size="9" font-weight="bold" textLength="122" lengthAdjust="spacingAndGlyphs">邮    箱: 2850175982@qq.com</text>
<text class="s" x="697" y="1430" font-size="9" font-weight="bold" textLength="108" lengthAdjust="spacingAndGlyphs">公司电话: 0755-23765350</text>
<text class="s" x="697" y="1444" font-size="9" font-weight="bold" textLength="108" lengthAdjust="spacingAndGlyphs">公司传真: 0755-23765341</text>
</g>
<g font-size="15">
<text x="522" y="1471" font-size="13" textLength="44" lengthAdjust="spacingAndGlyphs">TITLB:</text>
<text x="519" y="1491" textLength="310" lengthAdjust="spacingAndGlyphs">1.27*2.54mm Pin Header,Single Plastic,</text>
<text x="570" y="1510" textLength="207" lengthAdjust="spacingAndGlyphs">Dual Row,Right Angle Type</text>
<text x="839" y="1389" font-size="13" textLength="58" lengthAdjust="spacingAndGlyphs">PART.NO:</text>
<text x="909" y="1411" font-size="20" textLength="119" lengthAdjust="spacingAndGlyphs">ST-PH-127-0045</text>
<text x="841" y="1446" font-size="13" textLength="50" lengthAdjust="spacingAndGlyphs">DWG.NO:</text>
<text x="837" y="1502" font-size="13" textLength="28" lengthAdjust="spacingAndGlyphs">REV:</text>
<text x="899" y="1506" font-size="18" textLength="20" lengthAdjust="spacingAndGlyphs">A0</text>
<text x="952" y="1502" font-size="13" textLength="44" lengthAdjust="spacingAndGlyphs">SHEET:</text>
<text x="1015" y="1506" font-size="18" textLength="30" lengthAdjust="spacingAndGlyphs">1/1</text>
</g>
</svg>
</body></html>
